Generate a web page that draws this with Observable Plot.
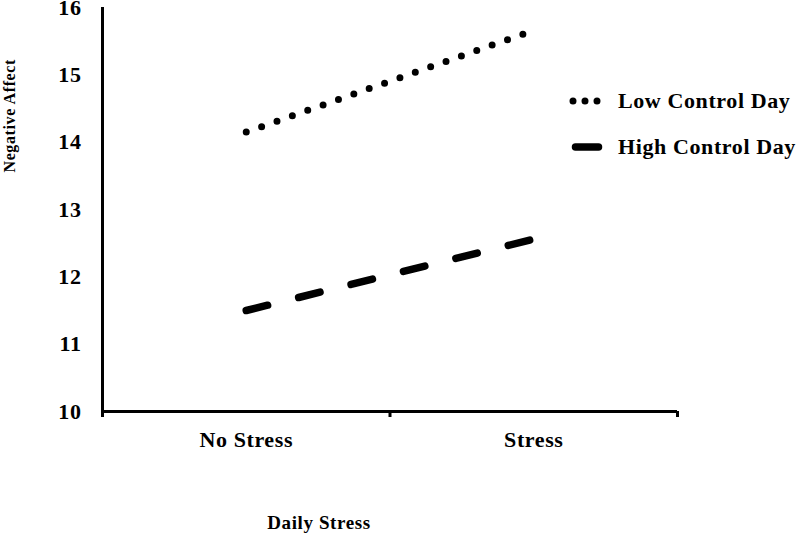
<!DOCTYPE html>
<html><head><meta charset="utf-8">
<script src="https://cdn.jsdelivr.net/npm/d3@7"></script>
<script src="https://cdn.jsdelivr.net/npm/@observablehq/plot@0.6"></script>
<style>
body{margin:0;background:#fff;}
#wrap{position:relative;width:800px;height:533px;}
#legend{position:absolute;left:0;top:0;pointer-events:none;}
</style></head><body><div id="wrap"></div>
<script>
const categories = ["No Stress", "Stress"];
const seriesNames = ["Low Control Day", "High Control Day"];
const lowControl = [14.15, 15.66];
const highControl = [11.5, 12.56];
const yTicks = [10, 11, 12, 13, 14, 15, 16];
const xLabel = "Daily Stress";
const yLabel = "Negative Affect";

const FONT = '"Liberation Serif", "Times New Roman", serif';
const styles = {
  "Low Control Day": {strokeWidth: 7, dash: "0 16.3", legendDash: "0 12"},
  "High Control Day": {strokeWidth: 7.5, dash: "22 32", legendDash: null}
};

const rows = [];
[lowControl, highControl].forEach((vals, s) =>
  vals.forEach((v, i) => rows.push({series: seriesNames[s], pos: i + 0.5, cat: categories[i], value: v})));

const chart = Plot.plot({
  width: 800, height: 533,
  marginLeft: 102, marginRight: 123, marginTop: 7, marginBottom: 122,
  style: {fontFamily: FONT, fontWeight: "bold", fontSize: "22px", color: "black", background: "white", letterSpacing: "0.6px"},
  x: {domain: [0, categories.length], label: null},
  y: {domain: [10, 16], label: null},
  marks: [
    Plot.ruleX([0], {strokeWidth: 3}),
    Plot.ruleY([10], {strokeWidth: 3}),
    Plot.axisX({ticks: d3.range(categories.length + 1), tickSize: 6, tickFormat: () => "", strokeWidth: 3, label: null}),
    Plot.axisX({ticks: categories.map((c, i) => i + 0.5), tickSize: 0, tickPadding: 20,
      tickFormat: t => categories[Math.floor(t)], fontSize: 22, label: null}),
    Plot.axisY({ticks: yTicks, tickSize: 0, tickPadding: 21, fontSize: 22, tickFormat: d3.format("d"), label: null}),
    ...seriesNames.map(name => Plot.line(rows.filter(r => r.series === name), {
      x: "pos", y: "value", stroke: "black",
      strokeWidth: styles[name].strokeWidth, strokeDasharray: styles[name].dash, strokeLinecap: "round"
    })),
    Plot.text([yLabel], {frameAnchor: "left", rotate: -90, dx: -93, dy: -37, fontSize: 16}),
    Plot.text([xLabel], {frameAnchor: "bottom", lineAnchor: "middle", dx: -71, dy: 111, fontSize: 19})
  ]
});
const wrap = document.getElementById("wrap");
wrap.appendChild(chart);

// legend overlay
const leg = d3.select(wrap).append("svg").attr("id", "legend").attr("width", 800).attr("height", 533)
  .style("font-family", FONT).style("font-weight", "bold").style("font-size", "22px").style("letter-spacing", "0.6px");
const legendRows = [
  {name: seriesNames[0], y: 101, x1: 573, x2: 609},
  {name: seriesNames[1], y: 147, x1: 575.5, x2: 598.5}
];
legendRows.forEach(r => {
  const st = styles[r.name];
  leg.append("line").attr("x1", r.x1).attr("x2", r.x2).attr("y1", r.y).attr("y2", r.y)
    .attr("stroke", "black").attr("stroke-width", st.strokeWidth).attr("stroke-linecap", "round")
    .attr("stroke-dasharray", st.legendDash);
  leg.append("text").attr("x", 618).attr("y", r.y + 7).attr("fill", "black").text(r.name);
});
</script></body></html>
